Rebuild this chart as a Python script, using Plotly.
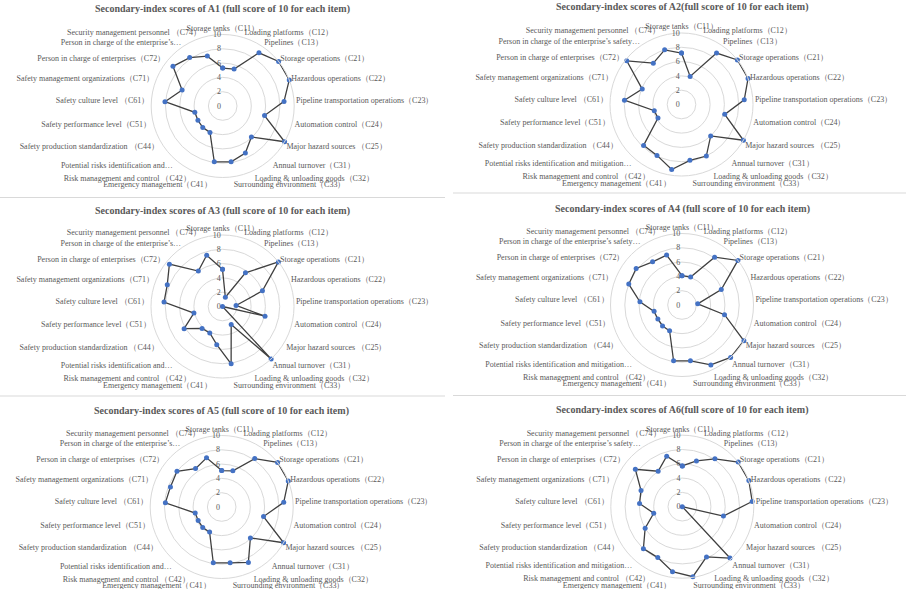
import plotly.graph_objects as go

# ---------------- data ----------------
base_labels = [
    "Storage tanks（C11）", "Loading platforms（C12）", "Pipelines（C13）",
    "Storage operations（C21）", "Hazardous operations（C22）",
    "Pipeline transportation operations（C23）", "Automation control（C24）",
    "Major hazard sources （C25）", "Annual turnover（C31）",
    "Loading & unloading goods（C32）", "Surrounding environment（C33）",
    "Emergency management（C41）", "Risk management and control （C42）",
    "C43", "Safety production standardization （C44）",
    "Safety performance level（C51）", "Safety culture level （C61）",
    "Safety management organizations（C71）", "Person in charge of enterprises（C72）",
    "C73", "Security management personnel （C74）",
]
c43_short = "Potential risks identification and…"
c43_long = "Potential risks identification and mitigation…"
c73_short = "Person in charge of the enterprise’s…"
c73_long = "Person in charge of the enterprise’s safety…"

titles = [
    "Secondary-index scores of A1 (full score of 10 for each item)",
    "Secondary-index scores of A2(full score of 10 for each item)",
    "Secondary-index scores of A3 (full score of 10 for each item)",
    "Secondary-index scores of A4 (full score of 10 for each item)",
    "Secondary-index scores of A5 (full score of 10 for each item)",
    "Secondary-index scores of A6(full score of 10 for each item)",
]

A1 = [5.3, 5.4, 9.0, 10, 10, 8.6, 6.0, 10, 5.9, 7.3, 7.9, 7.9, 4.1, 4.1, 4.0, 4.0, 8.1, 6.1, 8.9, 8.2, 7.3]
A2 = [7.2, 4.1, 8.7, 10, 10, 8.8, 6.2, 10, 6.0, 8.0, 7.9, 9.2, 7.9, 7.8, 3.8, 3.9, 8.0, 5.9, 9.8, 7.0, 8.0]
A3 = [5.2, 1.35, 5.7, 10, 6.0, 1.9, 6.1, 0, 10, 2.8, 8.1, 5.4, 4.1, 4.2, 6.2, 4.1, 8.2, 8.3, 9.5, 6.0, 7.5]
A4 = [4.1, 4.1, 8.1, 10, 5.9, 2.2, 6.1, 10, 10, 9.3, 7.9, 7.9, 4.0, 4.0, 3.9, 4.0, 5.9, 8.0, 8.2, 7.3, 7.3]
A5 = [5.1, 5.3, 8.2, 10, 10, 8.7, 6.0, 10, 5.9, 8.6, 7.9, 7.9, 3.9, 3.9, 3.8, 3.8, 7.9, 7.7, 8.0, 6.5, 7.2]
A6 = [5.7, 6.7, 8.1, 10, 10, 9.8, 5.9, 0, 9.8, 7.8, 9.9, 9.2, 7.9, 8.0, 6.0, 4.1, 6.0, 6.2, 8.4, 6.0, 7.4]
series = [A1, A2, A3, A4, A5, A6]
long_variant = [False, True, False, True, False, True]

# ---------------- layout helpers ----------------
W, H = 906, 589
R = 71.5
centers = [(222.7, 106), (681.5, 104.5), (222.5, 306.5), (682, 305), (221.7, 507), (682.3, 506.7)]
title_y = [9, 7, 211, 209, 411, 410]

GRAY_TXT = "#595959"
FONT = "Liberation Serif, Times New Roman, serif"

fig = go.Figure()
layout_polars = {}
annotations = []
for i, (vals, cen) in enumerate(zip(series, centers)):
    labels = list(base_labels)
    labels[13] = c43_long if long_variant[i] else c43_short
    labels[19] = c73_long if long_variant[i] else c73_short
    name = "polar" if i == 0 else f"polar{i+1}"
    fig.add_trace(go.Scatterpolar(
        r=vals + vals[:1], theta=labels + labels[:1],
        mode="lines+markers",
        line=dict(color="#404040", width=1.3),
        marker=dict(color="#4472C4", size=5),
        subplot=name, showlegend=False, cliponaxis=False,
        hoverinfo="r+theta",
    ))
    cx, cy = cen
    layout_polars[name] = dict(
        domain=dict(x=[(cx - R) / W, (cx + R) / W],
                    y=[1 - (cy + R) / H, 1 - (cy - R) / H]),
        bgcolor="white",
        angularaxis=dict(direction="clockwise", rotation=90,
                         showgrid=False, showline=True, linecolor="#D9D9D9",
                         linewidth=1, ticks="", ticklen=0,
                         tickfont=dict(family=FONT, size=8, color=GRAY_TXT),
                         categoryorder="array", categoryarray=labels),
        radialaxis=dict(range=[0, 10], dtick=2, angle=90, tickangle=90,
                        side="counterclockwise", showline=False, ticks="",
                        gridcolor="#D9D9D9", gridwidth=1,
                        tickfont=dict(family=FONT, size=8, color=GRAY_TXT)),
    )
    annotations.append(dict(
        text=f"<b>{titles[i]}</b>", x=cx / W, y=1 - title_y[i] / H,
        xref="paper", yref="paper", xanchor="center", yanchor="middle",
        showarrow=False, font=dict(family=FONT, size=10, color=GRAY_TXT),
    ))

shapes = [
    dict(type="line", xref="paper", yref="paper", x0=0, x1=445 / W,
         y0=1 - 197.5 / H, y1=1 - 197.5 / H, line=dict(color="#D9D9D9", width=1)),
    dict(type="line", xref="paper", yref="paper", x0=453 / W, x1=1,
         y0=1 - 193 / H, y1=1 - 193 / H, line=dict(color="#D9D9D9", width=1)),
    dict(type="line", xref="paper", yref="paper", x0=0, x1=445 / W,
         y0=1 - 396 / H, y1=1 - 396 / H, line=dict(color="#D9D9D9", width=1)),
    dict(type="line", xref="paper", yref="paper", x0=453 / W, x1=1,
         y0=1 - 395.5 / H, y1=1 - 395.5 / H, line=dict(color="#D9D9D9", width=1)),
]

fig.update_layout(
    width=W, height=H, autosize=False,
    margin=dict(l=0, r=0, t=0, b=0),
    paper_bgcolor="white", plot_bgcolor="white",
    annotations=annotations, shapes=shapes,
    **layout_polars,
)
fig.write_html("out.html")
